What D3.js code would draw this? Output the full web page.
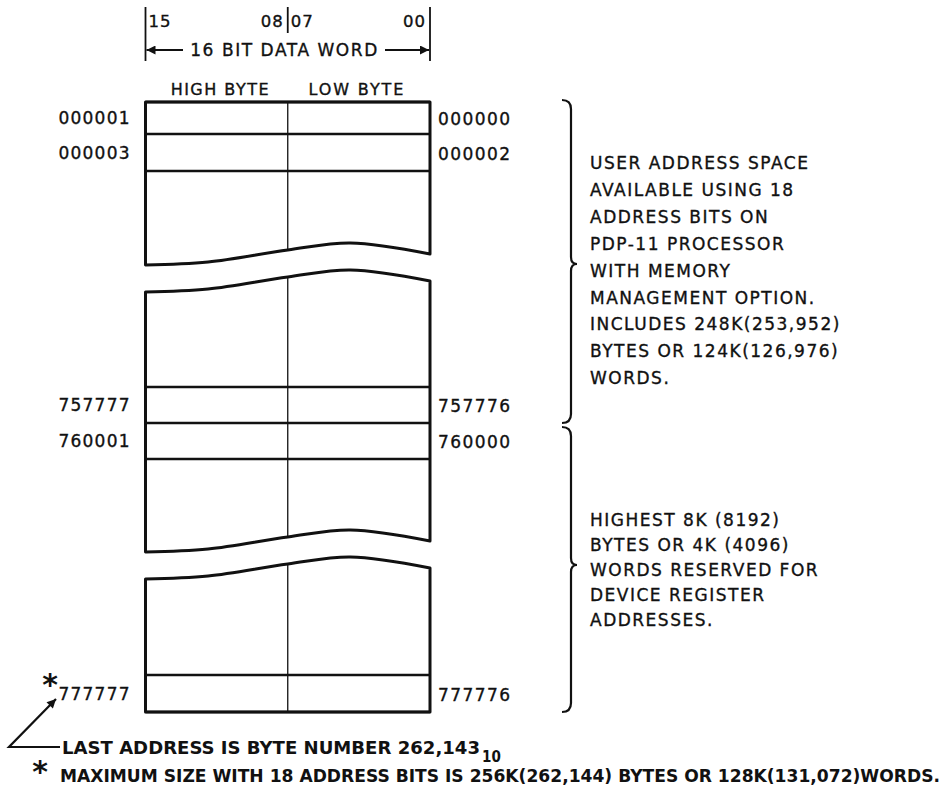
<!DOCTYPE html>
<html>
<head>
<meta charset="utf-8">
<script src="https://cdn.jsdelivr.net/npm/d3@7"></script>
<style>
  body { margin: 0; background: #fff; }
  svg { display: block; }
  text { font-family: "DejaVu Sans", sans-serif; fill: #111; }
  .lettering { stroke: #111; stroke-width: 0.35; }
  .note { font-family: "DejaVu Sans Condensed", "DejaVu Sans", sans-serif; font-stretch: condensed; font-weight: bold; }
</style>
</head>
<body>
<svg width="952" height="793"></svg>
<script>
// header of the word
var bitLabels = ["15", "08", "07", "00"];
var bitPos = [15, 8, 7, 0];
var wordLabel = "16 BIT DATA WORD";
var byteLabels = ["HIGH BYTE", "LOW BYTE"];

// addresses, odd on the left (high byte), even on the right (low byte)
var oddAddr = ["000001", "000003", "757777", "760001", "777777"];
var evenAddr = ["000000", "000002", "757776", "760000", "777776"];

// right hand notes
var userText = ["USER ADDRESS SPACE", "AVAILABLE USING 18", "ADDRESS BITS ON",
  "PDP-11 PROCESSOR", "WITH MEMORY", "MANAGEMENT OPTION.",
  "INCLUDES 248K(253,952)", "BYTES OR 124K(126,976)", "WORDS."];
var deviceText = ["HIGHEST 8K (8192)", "BYTES OR 4K (4096)", "WORDS RESERVED FOR",
  "DEVICE REGISTER", "ADDRESSES."];

// footnotes
var lastNote = "LAST ADDRESS IS BYTE NUMBER 262,143";
var lastNoteSub = "10";
var maxNote = "MAXIMUM SIZE WITH 18 ADDRESS BITS IS  256K(262,144) BYTES OR 128K(131,072)WORDS.";

var svg = d3.select("svg");

// x scale over the bits of the word (left edge of bit 15 .. right edge of bit 0)
var x = d3.scaleLinear().domain([16, 0]).range([145.5, 430]);
var xMid = x(8);

// layout of the three memory pieces (pixels)
var rowLines = [[102, 134, 171], [387, 423, 459], [675, 712]];
var segs = [
  {top: 102, topWave: false, bottom: 265, bottomWave: true},
  {top: 292, topWave: true, bottom: 552, bottomWave: true},
  {top: 579, topWave: true, bottom: 712, bottomWave: false}
];

// shape of the torn edge, offset from its left end
var waveFx = [0, 0.22, 0.5, 0.72, 1];
var waveDy = [0, -3, -15, -22, -11];
var waveLine = d3.line().curve(d3.curveCatmullRom.alpha(0.5));

function edgePoints(y0, wavy) {
  if (!wavy) return [[x(16), y0], [x(0), y0]];
  return waveFx.map(function(f, i) {
    return [x(16) + f * (x(0) - x(16)), y0 + waveDy[i]];
  });
}
function edgeAt(y0, wavy, px) {
  if (!wavy) return y0;
  var pts = edgePoints(y0, true);
  for (var i = 0; i < pts.length; i++) if (Math.abs(pts[i][0] - px) < 0.5) return pts[i][1];
  return y0;
}

var g = svg.append("g");

segs.forEach(function(s) {
  var topPts = edgePoints(s.top, s.topWave);
  var botPts = edgePoints(s.bottom, s.bottomWave).reverse();
  var d = waveLine(topPts) + "L" + waveLine(botPts).slice(1) + "Z";
  g.append("path")
    .attr("d", d)
    .attr("fill", "#fff")
    .attr("stroke", "#111")
    .attr("stroke-width", 3)
    .attr("stroke-linejoin", "round");
  // byte divider
  g.append("line")
    .attr("x1", xMid).attr("x2", xMid)
    .attr("y1", edgeAt(s.top, s.topWave, xMid))
    .attr("y2", edgeAt(s.bottom, s.bottomWave, xMid))
    .attr("stroke", "#111").attr("stroke-width", 1.3);
});

// horizontal word lines
rowLines.forEach(function(ls) {
  ls.forEach(function(y) {
    g.append("line")
      .attr("x1", x(16)).attr("x2", x(0))
      .attr("y1", y).attr("y2", y)
      .attr("stroke", "#111").attr("stroke-width", 2.5);
  });
});

// address labels centred on their rows
var rowCentres = [];
rowLines.forEach(function(ls) {
  for (var i = 0; i < ls.length - 1; i++) rowCentres.push((ls[i] + ls[i + 1]) / 2);
});

svg.selectAll(".odd").data(oddAddr).enter().append("text")
  .attr("class", "odd lettering")
  .attr("x", x(16) - 16)
  .attr("y", function(d, i) { return rowCentres[i] + 6; })
  .attr("text-anchor", "end")
  .attr("font-size", 17)
  .attr("textLength", 71)
  .text(function(d) { return d; });

svg.selectAll(".even").data(evenAddr).enter().append("text")
  .attr("class", "even lettering")
  .attr("x", x(0) + 8)
  .attr("y", function(d, i) { return rowCentres[i] + 7; })
  .attr("font-size", 17)
  .attr("textLength", 72)
  .text(function(d) { return d; });

// header: bit numbers
var hdr = svg.append("g");
[16, 8, 0].forEach(function(b, i) {
  hdr.append("line")
    .attr("x1", x(b)).attr("x2", x(b))
    .attr("y1", 7).attr("y2", b === 8 ? 33 : 61)
    .attr("stroke", "#111").attr("stroke-width", 1.8);
});
hdr.selectAll(".bit").data(bitLabels).enter().append("text")
  .attr("class", "bit lettering")
  .attr("x", function(d, i) {
    var b = bitPos[i];
    return (i % 2 === 0) ? x(b + 1) + 3 : x(b) - 4;
  })
  .attr("text-anchor", function(d, i) { return i % 2 === 0 ? "start" : "end"; })
  .attr("y", 27)
  .attr("font-size", 16.5)
  .attr("letter-spacing", 1)
  .text(function(d) { return d; });

// arrow heads
var defs = svg.append("defs");
defs.append("marker")
  .attr("id", "head2")
  .attr("viewBox", "0 -5 10 10")
  .attr("refX", 10).attr("refY", 0)
  .attr("markerWidth", 22).attr("markerHeight", 9)
  .attr("markerUnits", "userSpaceOnUse")
  .attr("orient", "auto")
  .append("path").attr("d", "M0,-5L10,0L0,5Z").attr("fill", "#111");

// 16 bit data word arrow
hdr.append("text")
  .attr("class", "lettering")
  .attr("x", (x(16) + x(0)) / 2 - 4)
  .attr("y", 56)
  .attr("text-anchor", "middle")
  .attr("font-size", 17)
  .attr("textLength", 187)
  .text(wordLabel);
hdr.append("line")
  .attr("x1", 183).attr("x2", x(16) + 1).attr("y1", 50).attr("y2", 50)
  .attr("stroke", "#111").attr("stroke-width", 1.8).attr("marker-end", "url(#head2)");
hdr.append("line")
  .attr("x1", 385).attr("x2", x(0) - 1).attr("y1", 50).attr("y2", 50)
  .attr("stroke", "#111").attr("stroke-width", 1.8).attr("marker-end", "url(#head2)");

// byte labels
svg.selectAll(".byte").data(byteLabels).enter().append("text")
  .attr("class", "byte lettering")
  .attr("x", function(d, i) { return i === 0 ? (x(16) + xMid) / 2 + 3 : (xMid + x(0)) / 2 - 3; })
  .attr("y", 95)
  .attr("text-anchor", "middle")
  .attr("font-size", 16)
  .attr("textLength", function(d, i) { return i === 0 ? 98 : 95; })
  .text(function(d) { return d; });

// braces
function brace(bx, y1, ym, y2) {
  var p = d3.path();
  p.moveTo(bx - 9, y1);
  p.quadraticCurveTo(bx, y1, bx, y1 + 9);
  p.lineTo(bx, ym - 7);
  p.quadraticCurveTo(bx, ym, bx + 6, ym);
  p.quadraticCurveTo(bx, ym, bx, ym + 7);
  p.lineTo(bx, y2 - 9);
  p.quadraticCurveTo(bx, y2, bx - 9, y2);
  return p.toString();
}
svg.append("path").attr("d", brace(571, 100, 264, 423))
  .attr("fill", "none").attr("stroke", "#111").attr("stroke-width", 2.2);
svg.append("path").attr("d", brace(571, 427, 565, 712))
  .attr("fill", "none").attr("stroke", "#111").attr("stroke-width", 2.2);

// notes right of the braces
svg.selectAll(".user").data(userText).enter().append("text")
  .attr("class", "user lettering")
  .attr("x", 590)
  .attr("y", function(d, i) { return 169 + i * 26.9; })
  .attr("font-size", 17)
  .attr("letter-spacing", 1.5)
  .text(function(d) { return d; });
svg.selectAll(".dev").data(deviceText).enter().append("text")
  .attr("class", "dev lettering")
  .attr("x", 590)
  .attr("y", function(d, i) { return 526 + i * 25; })
  .attr("font-size", 17)
  .attr("letter-spacing", 1.5)
  .text(function(d) { return d; });

// asterisks
svg.append("text").attr("x", 50).attr("y", 695).attr("text-anchor", "middle")
  .attr("font-size", 30).attr("font-weight", "bold").text("*");
svg.append("text").attr("x", 40).attr("y", 782).attr("text-anchor", "middle")
  .attr("font-size", 30).attr("font-weight", "bold").text("*");

// leader from the footnote to the last address
svg.append("path")
  .attr("d", "M60,747L9,747L56,699")
  .attr("fill", "none").attr("stroke", "#111").attr("stroke-width", 2.2)
  .attr("marker-end", "url(#head2)");

// footnotes
var n1 = svg.append("text").attr("class", "note")
  .attr("x", 62).attr("y", 754).attr("font-size", 17.5);
n1.append("tspan").attr("textLength", 418).attr("lengthAdjust", "spacingAndGlyphs").text(lastNote);
n1.append("tspan").attr("dy", 8).attr("dx", 2).attr("font-size", 15).text(lastNoteSub);

svg.append("text").attr("class", "note")
  .attr("x", 60).attr("y", 782).attr("font-size", 17.5)
  .attr("textLength", 880).attr("lengthAdjust", "spacingAndGlyphs")
  .text(maxNote);
</script>
</body>
</html>
